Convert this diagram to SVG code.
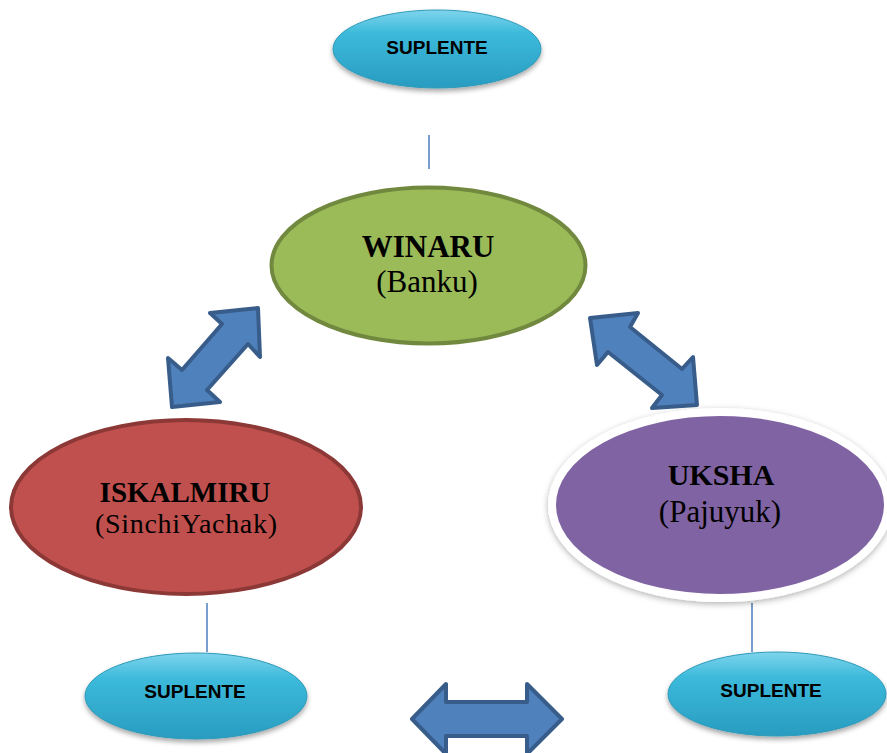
<svg xmlns="http://www.w3.org/2000/svg" width="887" height="753" viewBox="0 0 887 753">
<defs>
  <linearGradient id="cyan" x1="0" y1="0" x2="0" y2="1">
    <stop offset="0" stop-color="#7fd4ec"/>
    <stop offset="0.3" stop-color="#3cbadb"/>
    <stop offset="1" stop-color="#289cc0"/>
  </linearGradient>
  <filter id="shadow" x="-20%" y="-20%" width="140%" height="150%">
    <feDropShadow dx="0" dy="3" stdDeviation="2.5" flood-color="#000" flood-opacity="0.35"/>
  </filter>
  <filter id="glow" x="-20%" y="-20%" width="140%" height="150%">
    <feDropShadow dx="0" dy="2" stdDeviation="3" flood-color="#000" flood-opacity="0.3"/>
  </filter>
</defs>
<style>
  .sup { fill: url(#cyan); stroke: #2e9ab9; stroke-width: 1; }
  .supt { font-family: "Liberation Sans", Arial, sans-serif; font-weight: bold; font-size: 19px; fill: #000; text-anchor: middle; }
  .title { font-family: "Liberation Serif", "Times New Roman", serif; font-weight: bold; fill: #000; text-anchor: middle; }
  .sub { font-family: "Liberation Serif", "Times New Roman", serif; fill: #000; text-anchor: middle; }
  .line { stroke: #4a7ebb; stroke-width: 1.5; fill: none; }
  .arrow { fill: #4f81bd; stroke: #385d8a; stroke-width: 4; stroke-linejoin: round; }
</style>
<rect width="887" height="753" fill="#ffffff"/>

<g id="connectors">
  <line class="line" x1="429" y1="135" x2="429" y2="169"/>
  <line class="line" x1="207" y1="603" x2="207" y2="652"/>
  <line class="line" x1="752" y1="603" x2="752" y2="652"/>
  <polygon class="arrow" points="258,308 210,313 222,324 182,370 168,358 172,407 220,402 207,390 248,344 260,357"/>
  <polygon class="arrow" points="590,318 638,313 630,327 682,369 693,357 697,405 652,408 662,395 608,352 597,365"/>
  <polygon class="arrow" points="412,719 446,684 446,702 527,702 527,684 562,719 527,754 527,736 446,736 446,754"/>
</g>

<g id="suplente-top">
  <ellipse class="sup" cx="437" cy="49" rx="104" ry="39" filter="url(#shadow)"/>
  <text class="supt" x="437" y="54">SUPLENTE</text>
</g>

<g id="winaru">
  <ellipse cx="428.5" cy="265.5" rx="157" ry="78" fill="#9bbb59" stroke="#71893f" stroke-width="4"/>
  <text class="title" x="428" y="257" font-size="31">WINARU</text>
  <text class="sub" x="427" y="292" font-size="31">(Banku)</text>
</g>

<g id="iskalmiru">
  <ellipse cx="186" cy="507" rx="175" ry="87" fill="#c0504d" stroke="#8c3836" stroke-width="4"/>
  <text class="title" x="185" y="502" font-size="29">ISKALMIRU</text>
  <text class="sub" x="186" y="533" font-size="28" textLength="182" lengthAdjust="spacing">(SinchiYachak)</text>
</g>

<g id="uksha">
  <ellipse cx="720" cy="505" rx="168" ry="93" fill="#8064a2" stroke="#ffffff" stroke-width="8" filter="url(#glow)"/>
  <text class="title" x="721" y="485" font-size="30">UKSHA</text>
  <text class="sub" x="720" y="522" font-size="31">(Pajuyuk)</text>
</g>

<g id="suplente-left">
  <ellipse class="sup" cx="196" cy="696" rx="111" ry="43" filter="url(#shadow)"/>
  <text class="supt" x="195" y="698">SUPLENTE</text>
</g>

<g id="suplente-right">
  <ellipse class="sup" cx="777" cy="694" rx="109" ry="42" filter="url(#shadow)"/>
  <text class="supt" x="771" y="697">SUPLENTE</text>
</g>
</svg>
